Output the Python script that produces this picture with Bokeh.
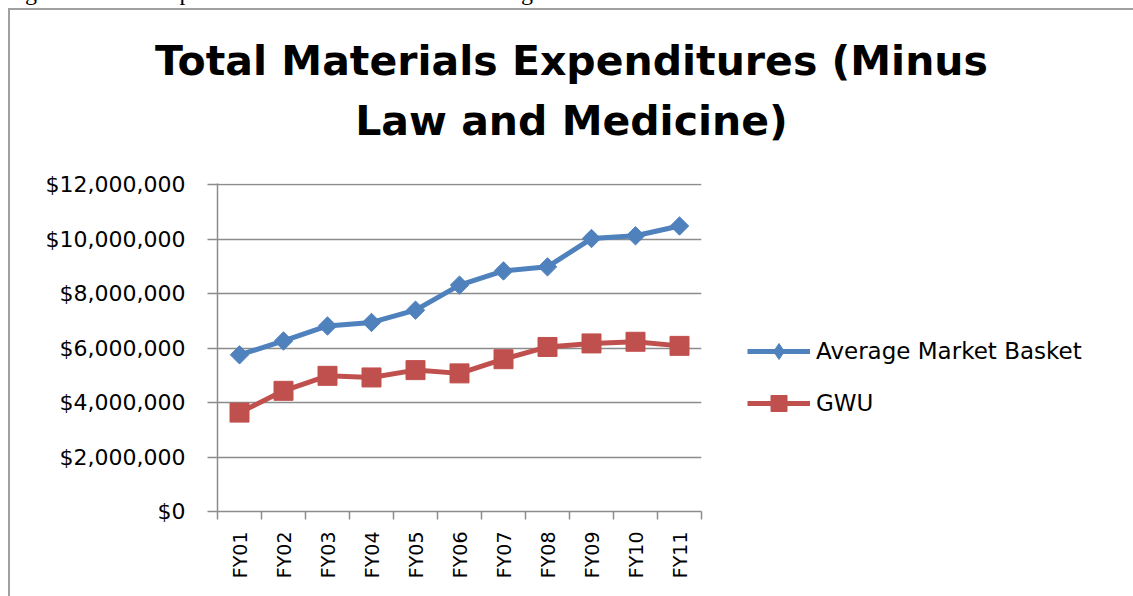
import numpy as np
from bokeh.plotting import figure
from bokeh.layouts import column, row
from bokeh.models import (FixedTicker, NumeralTickFormatter, Legend, LegendItem,
                          Range1d, Div)
from bokeh.embed import file_html
from bokeh.resources import INLINE

# ---- data ----
categories = ["FY01", "FY02", "FY03", "FY04", "FY05", "FY06",
              "FY07", "FY08", "FY09", "FY10", "FY11"]
market_basket = [5750000, 6260000, 6810000, 6940000, 7390000, 8310000,
                 8830000, 8980000, 10020000, 10120000, 10480000]
gwu = [3630000, 4430000, 4980000, 4920000, 5190000, 5070000,
       5590000, 6040000, 6170000, 6230000, 6080000]
y_ticks = [0, 2000000, 4000000, 6000000, 8000000, 10000000, 12000000]
title_lines = ["Total Materials Expenditures (Minus", "Law and Medicine)"]
caption = "Figure 4: Total Expenditures vs. Market Basket Average"
series_names = ["Average Market Basket", "GWU"]

BLUE = "#4F81BD"
RED = "#C0504D"
GRID = "#8c8c8c"
FONT = "DejaVu Sans"

n = len(categories)
xs = [i + 0.5 for i in range(n)]

p = figure(width=693, height=456, output_backend="svg", toolbar_location=None,
           x_range=Range1d(0, n), y_range=Range1d(0, 12040000),
           min_border_left=207, min_border_right=2, min_border_top=43,
           min_border_bottom=85, title=None)
p.outline_line_color = None
p.background_fill_color = "white"
p.border_fill_color = "white"

# x axis: labels centred, ticks at category boundaries
xa = p.xaxis[0]
xa.ticker = FixedTicker(ticks=xs, minor_ticks=list(range(n + 1)))
xa.major_label_overrides = {x: c for x, c in zip(xs, categories)}
xa.major_label_orientation = np.pi / 2
xa.major_tick_out = 0
xa.major_tick_in = 0
xa.minor_tick_out = 8
xa.minor_tick_in = 0
xa.minor_tick_line_color = GRID
xa.minor_tick_line_width = 1.5
xa.axis_line_color = GRID
xa.axis_line_width = 1.5
xa.major_label_text_font = FONT
xa.major_label_text_font_size = "19px"
xa.major_label_text_color = "black"
xa.major_label_standoff = 12
p.xgrid.visible = False

ya = p.yaxis[0]
ya.ticker = FixedTicker(ticks=y_ticks, minor_ticks=[])
ya.formatter = NumeralTickFormatter(format="$0,0")
ya.major_tick_out = 10
ya.major_tick_in = 0
ya.minor_tick_out = 0
ya.minor_tick_in = 0
ya.major_tick_line_color = GRID
ya.major_tick_line_width = 1.5
ya.axis_line_color = GRID
ya.axis_line_width = 1.5
ya.major_label_text_font = FONT
ya.major_label_text_font_size = "22px"
ya.major_label_text_color = "black"
ya.major_label_standoff = 22
p.ygrid.ticker = FixedTicker(ticks=y_ticks, minor_ticks=[])
p.ygrid.grid_line_color = GRID
p.ygrid.grid_line_width = 1.5

p.line(xs, market_basket, line_color=BLUE, line_width=5)
p.scatter(xs, market_basket, marker="square", angle=np.pi / 4, size=13,
          fill_color=BLUE, line_color=BLUE)
p.line(xs, gwu, line_color=RED, line_width=5)
p.scatter(xs, gwu, marker="square", size=19, fill_color=RED, line_color=RED)

# ---- legend panel (separate, axis-less figure whose view shows no data) ----
lf = figure(width=430, height=456, output_backend="svg", toolbar_location=None,
            x_range=Range1d(-100, -99), y_range=Range1d(-100, -99),
            min_border=0, title=None)
lf.axis.visible = False
lf.grid.visible = False
lf.outline_line_color = None
lf.background_fill_color = "white"
lf.border_fill_color = "white"
g1l = lf.line(xs, market_basket, line_color=BLUE, line_width=5)
g1m = lf.scatter(xs, market_basket, marker="diamond", size=18,
                 fill_color=BLUE, line_color=BLUE)
g2l = lf.line(xs, gwu, line_color=RED, line_width=5)
g2m = lf.scatter(xs, gwu, marker="square", size=19, fill_color=RED, line_color=RED)

legend = Legend(items=[LegendItem(label=series_names[0], renderers=[g1l, g1m]),
                       LegendItem(label=series_names[1], renderers=[g2l, g2m])],
                location=(44, 88))
legend.glyph_width = 63
legend.glyph_height = 40
legend.label_height = 40
legend.spacing = 12
legend.padding = 0
legend.margin = 0
legend.label_standoff = 6
legend.border_line_color = None
legend.background_fill_alpha = 0
legend.label_text_font = FONT
legend.label_text_font_size = "23px"
legend.label_text_color = "black"
lf.add_layout(legend, "center")

title_html = (
    '<div style="position:relative;width:1118px;font-family:\'DejaVu Sans\';'
    'font-weight:bold;font-size:41px;line-height:60px;text-align:center;'
    'padding-top:21px;padding-left:5px;white-space:nowrap;color:black;">'
    + "<br>".join(title_lines) +
    '<div style="position:absolute;top:-30px;left:-5px;font-family:\'Liberation Serif\';'
    'font-weight:normal;font-size:24px;line-height:24px;text-align:left;">'
    + caption + '</div></div>'
)
title_div = Div(text=title_html, width=1123, height=130, margin=0)

layout = column(title_div, row(p, lf, spacing=0), spacing=0)
layout.styles = {"margin": "8px 0 0 8px", "overflow": "visible",
                 "border-left": "2px solid #a0a0a0", "border-top": "2px solid #a0a0a0"}

open("out.html", "w").write(file_html(layout, INLINE))
